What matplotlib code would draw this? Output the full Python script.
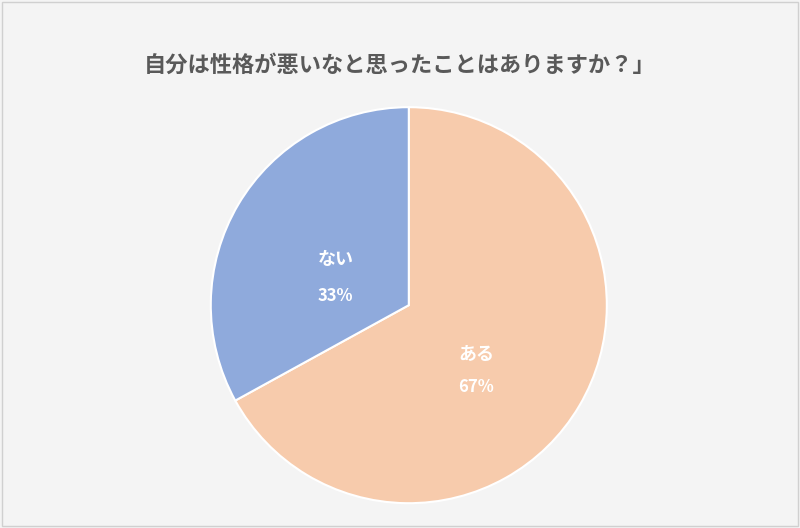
import matplotlib.pyplot as plt
from matplotlib.patches import Rectangle

plt.rcParams['font.family'] = ['Noto Sans CJK JP', 'DejaVu Sans']

title = "自分は性格が悪いなと思ったことはありますか？」"
labels = ["ある", "ない"]
values = [67, 33]
colors = ["#F7CBAC", "#8FAADC"]
# label positions (pie data coords) for name / percent
label_pos = [(0.34, -0.25, -0.415), (-0.37, 0.23, 0.045)]

fig = plt.figure(figsize=(8, 5.28), dpi=100)
fig.patch.set_facecolor("#F4F4F4")
fig.add_artist(Rectangle((0.002, 0.003), 0.995, 0.994, transform=fig.transFigure,
                         fill=False, edgecolor="#D0D0D0", lw=1))

ax = fig.add_axes([0.261, 0.043, 0.5, 0.758])
ax.pie(values, colors=colors, startangle=90, counterclock=False,
       wedgeprops=dict(edgecolor="white", linewidth=1.5))
ax.set_xlim(-1.01, 1.01)
ax.set_ylim(-1.01, 1.01)
ax.set_aspect("equal")

for lab, v, (x, y1, y2) in zip(labels, values, label_pos):
    ax.text(x, y1, lab, ha="center", va="center", color="white",
            fontsize=13, fontweight="bold")
    ax.text(x, y2, f"{v}%", ha="center", va="center", color="white",
            fontsize=12, fontweight="bold")

fig.text(0.5, 0.877, title, ha="center", va="center", color="#595959",
         fontsize=16, fontweight="bold")

fig.savefig("out.png", dpi=100, facecolor=fig.get_facecolor())
